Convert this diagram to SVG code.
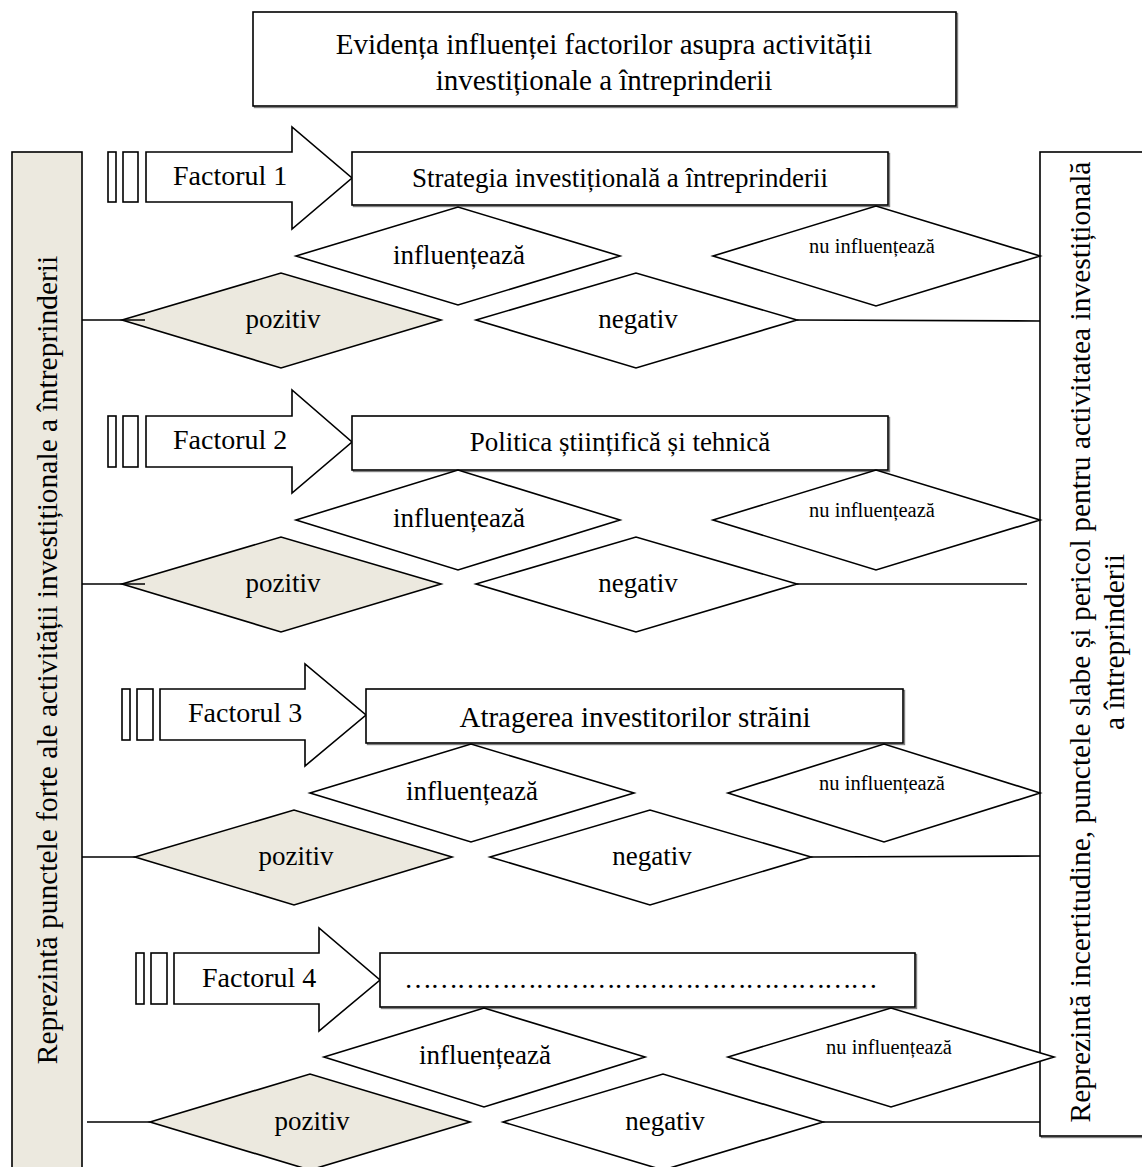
<svg xmlns="http://www.w3.org/2000/svg" width="1142" height="1167" viewBox="0 0 1142 1167">
  <style>
    .ln { fill: none; stroke: #000; stroke-width: 1.6; }
    .bx { fill: #fff; stroke: #000; stroke-width: 1.6; }
    .sd { fill: none; stroke: #808080; stroke-width: 1.4; }
    .sh { fill: #fff; stroke: #000; stroke-width: 1.6; }
    .pos { fill: #ECE9DF; stroke: #000; stroke-width: 1.6; }
    .bar { fill: #ECE9DF; stroke: #000; stroke-width: 1.6; }
    text { font-family: "Liberation Serif", "Times New Roman", Times, serif; fill: #000; }
    .t { font-size: 27px; text-anchor: middle; }
    .h { font-size: 29px; text-anchor: middle; }
    .f { font-size: 28px; }
    .s { font-size: 20.5px; text-anchor: middle; }
    .v { font-size: 29.5px; text-anchor: middle; }
  </style>

  <!-- heading -->
  <g id="title">
    <rect class="sd" x="254.5" y="13.5" width="703" height="94"/>
    <rect class="bx" x="253" y="12" width="703" height="94"/>
    <text class="h" x="604" y="54">Evidența influenței factorilor asupra activității</text>
    <text class="h" x="604" y="90">investiționale a întreprinderii</text>
  </g>

  <!-- side panels -->
  <g id="strengths">
    <rect class="bar" x="12" y="152" width="70" height="1030"/>
    <text class="v" transform="translate(57 660) rotate(-90)">Reprezintă punctele forte ale activității investiționale a întreprinderii</text>
  </g>
  <g id="weaknesses">
    <rect class="sd" x="1041.5" y="153.5" width="120" height="984"/>
    <rect class="bx" x="1040" y="152" width="120" height="984"/>
    <text class="v" transform="translate(1090 642) rotate(-90)">Reprezintă incertitudine, punctele slabe și pericol pentru activitatea investițională</text>
    <text class="v" transform="translate(1124 642) rotate(-90)">a întreprinderii</text>
  </g>

  <!-- factor 1 -->
  <g id="factor1">
    <rect class="sh" x="108" y="152" width="8" height="50"/>
    <rect class="sh" x="123" y="152" width="15" height="50"/>
    <polygon class="sh" points="146,152 292,152 292,127 352,178 292,229 292,202 146,202"/>
    <text class="f" x="173" y="185">Factorul 1</text>
  </g>
  <g id="area1">
    <rect class="sd" x="353.5" y="153.5" width="536" height="53"/>
    <rect class="bx" x="352" y="152" width="536" height="53"/>
    <text class="t" x="620" y="187">Strategia investițională a întreprinderii</text>
  </g>
  <g id="influences1">
    <polygon class="sh" points="296,256 458,207 620,256 458,305"/>
    <text class="t" x="459" y="264">influențează</text>
  </g>
  <g id="noinfluence1">
    <polygon class="sh" points="713,256 876,206 1040,256 876,306"/>
    <text class="s" x="872" y="253">nu influențează</text>
  </g>
  <g id="positive1">
    <polygon class="pos" points="122,320 281,273 441,320 281,368"/>
    <text class="t" x="283" y="328">pozitiv</text>
  </g>
  <g id="negative1">
    <polygon class="sh" points="476,320 636,273 797,320 636,368"/>
    <text class="t" x="638" y="328">negativ</text>
  </g>

  <!-- factor 2 -->
  <g id="factor2">
    <rect class="sh" x="108" y="416" width="8" height="51"/>
    <rect class="sh" x="123" y="416" width="15" height="51"/>
    <polygon class="sh" points="146,416 292,416 292,390 352,442 292,493 292,467 146,467"/>
    <text class="f" x="173" y="449">Factorul 2</text>
  </g>
  <g id="area2">
    <rect class="sd" x="353.5" y="417.5" width="536" height="54"/>
    <rect class="bx" x="352" y="416" width="536" height="54"/>
    <text class="t" x="620" y="451">Politica științifică și tehnică</text>
  </g>
  <g id="influences2">
    <polygon class="sh" points="296,520 458,470 620,520 458,570"/>
    <text class="t" x="459" y="527">influențează</text>
  </g>
  <g id="noinfluence2">
    <polygon class="sh" points="713,520 876,470 1040,520 876,570"/>
    <text class="s" x="872" y="517">nu influențează</text>
  </g>
  <g id="positive2">
    <polygon class="pos" points="122,584 281,537 441,584 281,632"/>
    <text class="t" x="283" y="592">pozitiv</text>
  </g>
  <g id="negative2">
    <polygon class="sh" points="476,584 636,537 797,584 636,632"/>
    <text class="t" x="638" y="592">negativ</text>
  </g>

  <!-- factor 3 -->
  <g id="factor3">
    <rect class="sh" x="122" y="689" width="8" height="51"/>
    <rect class="sh" x="137" y="689" width="16" height="51"/>
    <polygon class="sh" points="160,689 305,689 305,664 366,715 305,766 305,740 160,740"/>
    <text class="f" x="188" y="722">Factorul 3</text>
  </g>
  <g id="area3">
    <rect class="sd" x="367.5" y="690.5" width="537" height="54"/>
    <rect class="bx" x="366" y="689" width="537" height="54"/>
    <text class="h" x="635" y="727">Atragerea investitorilor străini</text>
  </g>
  <g id="influences3">
    <polygon class="sh" points="310,793 471,744 634,793 471,842"/>
    <text class="t" x="472" y="800">influențează</text>
  </g>
  <g id="noinfluence3">
    <polygon class="sh" points="728,793 884,744 1040,793 884,842"/>
    <text class="s" x="882" y="790">nu influențează</text>
  </g>
  <g id="positive3">
    <polygon class="pos" points="135,857 294,810 452,857 294,905"/>
    <text class="t" x="296" y="865">pozitiv</text>
  </g>
  <g id="negative3">
    <polygon class="sh" points="490,857 650,810 811,857 650,905"/>
    <text class="t" x="652" y="865">negativ</text>
  </g>

  <!-- factor 4 -->
  <g id="factor4">
    <rect class="sh" x="136" y="953" width="8" height="51"/>
    <rect class="sh" x="151" y="953" width="16" height="51"/>
    <polygon class="sh" points="174,953 319,953 319,928 380,980 319,1031 319,1004 174,1004"/>
    <text class="f" x="202" y="987">Factorul 4</text>
  </g>
  <g id="area4">
    <rect class="sd" x="381.5" y="954.5" width="535" height="54"/>
    <rect class="bx" x="380" y="953" width="535" height="54"/>
    <text class="f" x="404" y="988" font-size="27" textLength="474" lengthAdjust="spacing">………………………………………………</text>
  </g>
  <g id="influences4">
    <polygon class="sh" points="324,1057 484,1008 645,1057 484,1107"/>
    <text class="t" x="485" y="1064">influențează</text>
  </g>
  <g id="noinfluence4">
    <polygon class="sh" points="728,1057 891,1008 1054,1057 891,1107"/>
    <text class="s" x="889" y="1054">nu influențează</text>
  </g>
  <g id="positive4">
    <polygon class="pos" points="150,1122 310,1074 470,1122 310,1170"/>
    <text class="t" x="312" y="1130">pozitiv</text>
  </g>
  <g id="negative4">
    <polygon class="sh" points="503,1122 663,1074 823,1122 663,1170"/>
    <text class="t" x="665" y="1130">negativ</text>
  </g>

  <!-- links from the outcome diamonds to the side panels -->
  <g id="connectors">
    <path class="ln" d="M82 320H145M797 320L1040 321"/>
    <path class="ln" d="M82 584H145M797 584H1027"/>
    <path class="ln" d="M82 857H135M811 857L1040 856"/>
    <path class="ln" d="M87 1122H150M823 1122H1040"/>
  </g>
</svg>
